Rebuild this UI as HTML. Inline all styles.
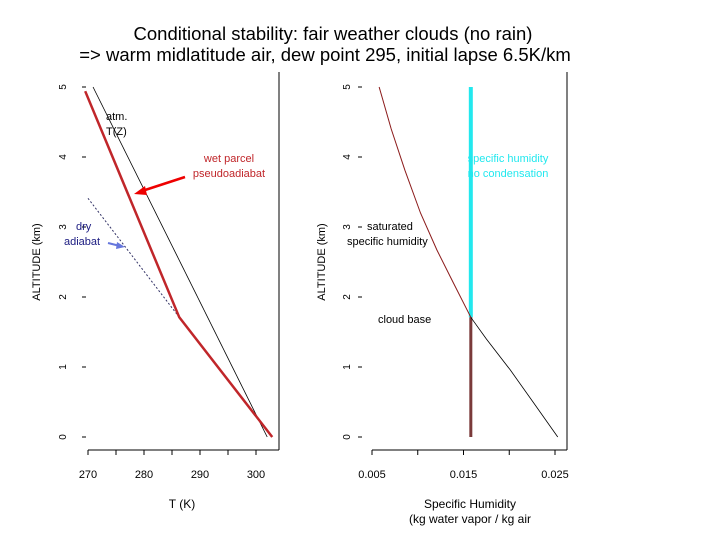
<!DOCTYPE html>
<html><head><meta charset="utf-8"><style>
body{margin:0;background:#fff;}
svg{display:block;font-family:"Liberation Sans",sans-serif;}
</style></head><body>
<svg id="c" width="720" height="540" viewBox="0 0 720 540">
<text x="333" y="40" font-size="18.5" text-anchor="middle">Conditional stability:  fair weather clouds (no rain)</text>
<text x="325" y="61" font-size="18.5" text-anchor="middle">=&gt; warm midlatitude air, dew point 295, initial lapse 6.5K/km</text>
<g id="L"></g>
<g id="R"></g>
</svg>
<script>
// Left panel data
const tTicks = [270, 280, 290, 300];
const zTicks = [0, 1, 2, 3, 4, 5];
const atmT = [302.0, 270.9];
const atmZ = [0, 5];
const parcelT = [302.9, 286.3, 269.5];
const parcelZ = [0, 1.71, 4.94];
const dryT = [286.3, 270.0];
const dryZ = [1.71, 3.41];
// Right panel data
const qTicks = [0.005, 0.010, 0.015, 0.020, 0.025];
const qTickLabels = ["0.005", "", "0.015", "", "0.025"];
const satQUpper = [0.0158, 0.0139, 0.0121, 0.0103, 0.0086, 0.0071, 0.00578];
const satZUpper = [1.71, 2.2, 2.67, 3.2, 3.81, 4.4, 5];
const satQLower = [0.0253, 0.0226, 0.0201, 0.0175, 0.0158];
const satZLower = [0, 0.5, 0.96, 1.4, 1.71];
const qConst = 0.0158;
const cloudBase = 1.71;

const NS = "http://www.w3.org/2000/svg";
function mk(p, tag, a, txt){const e=document.createElementNS(NS,tag);for(const k in a)e.setAttribute(k,a[k]);if(txt!==undefined)e.textContent=txt;p.appendChild(e);return e;}
const yZ = z => 437 - z*70;
const xT = t => 88 + (t-270)*5.6;
const xQ = q => 372 + (q-0.005)*9150;
function pts(xs, ys, fx){return xs.map((v,i)=>fx(v)+","+yZ(ys[i])).join(" ");}

function yAxis(g, tx, lx){
  zTicks.forEach(z=>{
    const l=mk(g,"line",{x1:tx,x2:tx+4,y1:yZ(z),y2:yZ(z),stroke:"#000","stroke-width":1});
    
    
    const t=mk(g,"text",{x:lx,y:yZ(z),"font-size":10,"text-anchor":"middle",transform:`rotate(-90 ${lx} ${yZ(z)})`},String(z));
    
    
  });
}

// LEFT
const L=document.getElementById("L");
mk(L,"line",{x1:279,y1:72,x2:279,y2:450,stroke:"#000"});
mk(L,"line",{x1:88,y1:450,x2:279,y2:450,stroke:"#000"});
yAxis(L,82,66);
tTicks.forEach(t=>{
  const l=mk(L,"line",{x1:xT(t),x2:xT(t),y1:450,y2:455,stroke:"#000"});
  
  
  const s=mk(L,"text",{x:xT(t),y:478,"font-size":11,"text-anchor":"middle"},String(t));
  
  
});
[275,285,295].forEach(t=>mk(L,"line",{x1:xT(t),x2:xT(t),y1:450,y2:455,stroke:"#000"}));
mk(L,"text",{x:182,y:508,"font-size":12,"text-anchor":"middle",},"T (K)");
mk(L,"text",{x:40,y:262,"font-size":11,"text-anchor":"middle",transform:"rotate(-90 40 262)",},"ALTITUDE (km)");
mk(L,"polyline",{points:pts(atmT,atmZ,xT),fill:"none",stroke:"#000","stroke-width":0.8,});
mk(L,"polyline",{points:pts(dryT,dryZ,xT),fill:"none",stroke:"#336","stroke-width":1,"stroke-dasharray":"2,2",});
mk(L,"polyline",{points:pts(parcelT,parcelZ,xT),fill:"none",stroke:"#c0262a","stroke-width":2.5,});
mk(L,"text",{x:106,y:120,"font-size":11},"atm.");
mk(L,"text",{x:106,y:135,"font-size":11},"T(Z)");
mk(L,"text",{x:229,y:162,"font-size":11,fill:"#c0262a","text-anchor":"middle"},"wet parcel");
mk(L,"text",{x:229,y:177,"font-size":11,fill:"#c0262a","text-anchor":"middle"},"pseudoadiabat");
mk(L,"line",{x1:185,y1:177,x2:142,y2:191,stroke:"#e00","stroke-width":2.5,});
mk(L,"polygon",{points:"134,194 145,186 147,195",fill:"#e00"});
mk(L,"text",{x:76,y:230,"font-size":11,fill:"#1a1a80"},"dry");
mk(L,"text",{x:64,y:245,"font-size":11,fill:"#1a1a80"},"adiabat");
mk(L,"line",{x1:108,y1:243,x2:120,y2:246,stroke:"#6677dd","stroke-width":2,});
mk(L,"polygon",{points:"125,247 117,242 116,249",fill:"#6677dd"});

// RIGHT
const R=document.getElementById("R");
mk(R,"line",{x1:567,y1:72,x2:567,y2:450,stroke:"#000"});
mk(R,"line",{x1:372,y1:450,x2:567,y2:450,stroke:"#000"});
yAxis(R,358,350);
qTicks.forEach((q,i)=>{
  const l=mk(R,"line",{x1:xQ(q),x2:xQ(q),y1:450,y2:455,stroke:"#000"});
  
  
  const s=mk(R,"text",{x:xQ(q),y:478,"font-size":11,"text-anchor":"middle"},qTickLabels[i]);
  
  
});
mk(R,"text",{x:470,y:508,"font-size":12,"text-anchor":"middle",},"Specific Humidity");
mk(R,"text",{x:470,y:523,"font-size":12,"text-anchor":"middle"},"(kg water vapor / kg air");
mk(R,"text",{x:325,y:262,"font-size":11,"text-anchor":"middle",transform:"rotate(-90 325 262)",},"ALTITUDE (km)");
mk(R,"line",{x1:xQ(qConst),x2:xQ(qConst),y1:yZ(5),y2:yZ(cloudBase),stroke:"#22e8ee","stroke-width":4,});
mk(R,"line",{x1:xQ(qConst),x2:xQ(qConst),y1:yZ(0),y2:yZ(cloudBase),stroke:"#7a3a3a","stroke-width":3,});
mk(R,"polyline",{points:pts(satQUpper,satZUpper,xQ),fill:"none",stroke:"#8b1a1a","stroke-width":1,});
mk(R,"polyline",{points:pts(satQLower,satZLower,xQ),fill:"none",stroke:"#000","stroke-width":0.8,});
mk(R,"text",{x:508,y:162,"font-size":11,fill:"#22e8ee","text-anchor":"middle"},"specific humidity");
mk(R,"text",{x:508,y:177,"font-size":11,fill:"#22e8ee","text-anchor":"middle"},"no condensation");
mk(R,"text",{x:367,y:230,"font-size":11},"saturated");
mk(R,"text",{x:347,y:245,"font-size":11},"specific humidity");
mk(R,"text",{x:378,y:323,"font-size":11,},"cloud base");
</script>
</body></html>
